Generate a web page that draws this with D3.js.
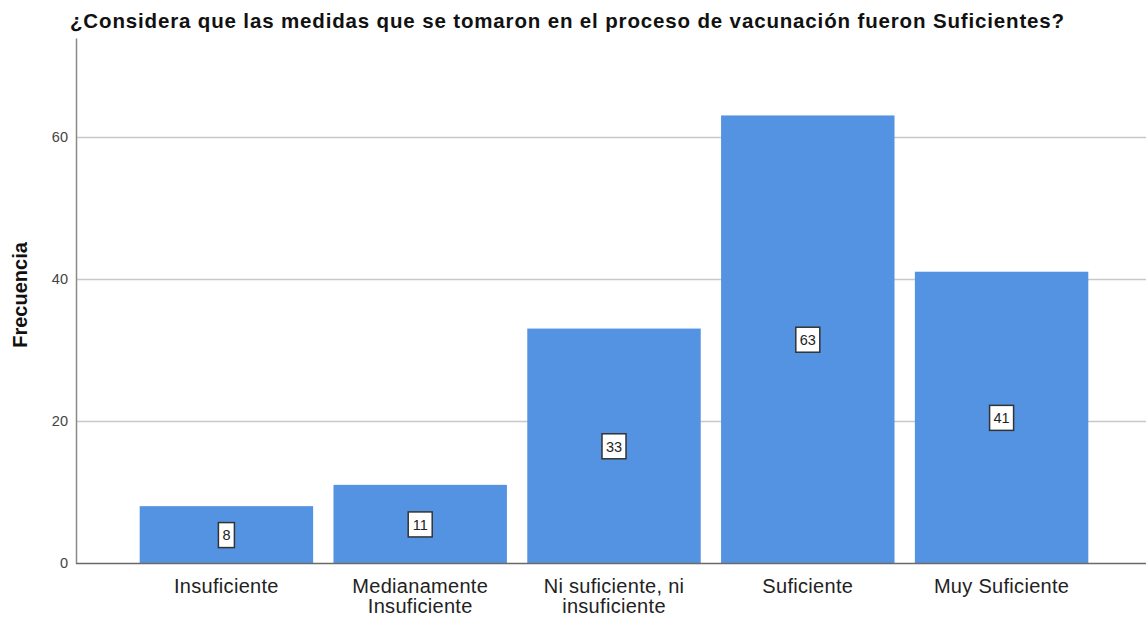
<!DOCTYPE html>
<html>
<head>
<meta charset="utf-8">
<script src="https://cdn.jsdelivr.net/npm/d3@7"></script>
<style>
  body { margin: 0; background: #fff; }
  svg { display: block; font-family: "Liberation Sans", Arial, sans-serif; }
</style>
</head>
<body>
<div id="chart"></div>
<script>
const categories = [
  ['Insuficiente'],
  ['Medianamente', 'Insuficiente'],
  ['Ni suficiente, ni', 'insuficiente'],
  ['Suficiente'],
  ['Muy Suficiente']
];
const counts = [8, 11, 33, 63, 41];
const yTicks = [0, 20, 40, 60];
const title = '¿Considera que las medidas que se tomaron en el proceso de vacunación fueron Suficientes?';

const width = 1146, height = 620;
const axisX = 76, baseY = 563, topY = 38;

const svg = d3.select('#chart').append('svg')
  .attr('width', width)
  .attr('height', height);

const x = d3.scaleBand()
  .domain(d3.range(counts.length))
  .range([130, 1098])
  .paddingInner(0.105)
  .paddingOuter(0.05);

const y = d3.scaleLinear()
  .domain([0, 73.9])
  .range([baseY, topY]);

// gridlines
svg.append('g')
  .selectAll('line')
  .data(yTicks.filter(d => d > 0))
  .enter()
  .append('line')
  .attr('x1', axisX)
  .attr('x2', width)
  .attr('y1', d => Math.round(y(d)) + 0.5)
  .attr('y2', d => Math.round(y(d)) + 0.5)
  .attr('stroke', '#c8c8c8')
  .attr('stroke-width', 1.5);

// bars
svg.append('g')
  .selectAll('rect')
  .data(counts)
  .enter()
  .append('rect')
  .attr('x', (d, i) => x(i))
  .attr('width', x.bandwidth())
  .attr('y', d => y(d))
  .attr('height', d => baseY - y(d))
  .attr('fill', '#5493e2');

// y axis
const yAxis = svg.append('g')
  .attr('transform', `translate(${axisX},0)`)
  .call(d3.axisLeft(y).tickValues(yTicks).tickSize(0).tickPadding(8));
yAxis.select('.domain').attr('stroke', '#8a8a8a').attr('stroke-width', 1.5);
yAxis.selectAll('text')
  .attr('font-size', '14.5px')
  .attr('fill', '#444')
  .attr('font-family', '"Liberation Sans", Arial, sans-serif');

// baseline
svg.append('line')
  .attr('x1', axisX)
  .attr('x2', width)
  .attr('y1', baseY + 0.5)
  .attr('y2', baseY + 0.5)
  .attr('stroke', '#6a6a6a')
  .attr('stroke-width', 1.5);

// category labels
const catG = svg.append('g')
  .selectAll('text')
  .data(categories)
  .enter()
  .append('text')
  .attr('x', (d, i) => x(i) + x.bandwidth() / 2)
  .attr('y', 593)
  .attr('text-anchor', 'middle')
  .attr('font-size', '20px')
  .attr('letter-spacing', '0.3px')
  .attr('fill', '#222');
catG.selectAll('tspan')
  .data(d => d)
  .enter()
  .append('tspan')
  .attr('x', function () { return d3.select(this.parentNode).attr('x'); })
  .attr('dy', (d, i) => i === 0 ? 0 : 20)
  .text(d => d);

// value boxes
const labels = svg.append('g')
  .selectAll('g')
  .data(counts)
  .enter()
  .append('g')
  .attr('transform', (d, i) => `translate(${x(i) + x.bandwidth() / 2},${y(d / 2)})`);

labels.append('rect')
  .attr('x', d => -(String(d).length * 8 + 8) / 2)
  .attr('y', -12)
  .attr('width', d => String(d).length * 8 + 8)
  .attr('height', 25)
  .attr('fill', '#fff')
  .attr('stroke', '#333')
  .attr('stroke-width', 1.5);

labels.append('text')
  .attr('text-anchor', 'middle')
  .attr('dy', '0.4em')
  .attr('font-size', '14.5px')
  .attr('fill', '#222')
  .text(d => d);

// title
svg.append('text')
  .attr('x', 70)
  .attr('y', 28)
  .attr('font-size', '20.5px')
  .attr('font-weight', 'bold')
  .attr('letter-spacing', '0.85px')
  .attr('fill', '#111')
  .text(title);

// y label
svg.append('text')
  .attr('transform', 'translate(27,295) rotate(-90)')
  .attr('text-anchor', 'middle')
  .attr('font-size', '20px')
  .attr('font-weight', 'bold')
  .attr('fill', '#111')
  .text('Frecuencia');
</script>
</body>
</html>
